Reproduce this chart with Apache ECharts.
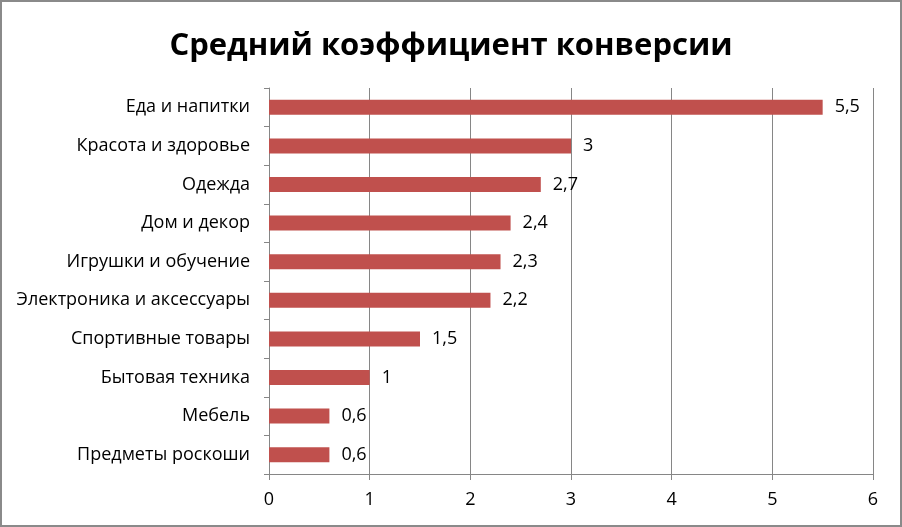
<!DOCTYPE html>
<html>
<head>
<meta charset="utf-8">
<script src="https://cdn.jsdelivr.net/npm/echarts@6/dist/echarts.min.js"></script>
<style>
  html, body { margin: 0; padding: 0; background: #fff; }
  #frame { width: 902px; height: 527px; box-sizing: border-box; border: 2px solid #8a8a8a; }
  #ec { width: 898px; height: 523px; }
</style>
</head>
<body>
<div id="frame"><div id="ec"></div></div>
<script>
var categories = [
  "Еда и напитки",
  "Красота и здоровье",
  "Одежда",
  "Дом и декор",
  "Игрушки и обучение",
  "Электроника и аксессуары",
  "Спортивные товары",
  "Бытовая техника",
  "Мебель",
  "Предметы роскоши"
];
var rates = [5.5, 3, 2.7, 2.4, 2.3, 2.2, 1.5, 1, 0.6, 0.6];
var xTicks = [0, 1, 2, 3, 4, 5, 6];

var myChart = echarts.init(document.getElementById("ec"));
var font = "'Open Sans', 'Noto Sans', sans-serif";

myChart.setOption({
  animation: false,
  backgroundColor: "#fff",
  title: {
    text: "Средний коэффициент конверсии",
    left: "center",
    top: 24,
    textStyle: { fontFamily: font, fontSize: 31, fontWeight: "bold", color: "#000" }
  },
  grid: { left: 267, right: 27, top: 86, bottom: 51 },
  xAxis: {
    type: "value",
    min: xTicks[0],
    max: xTicks[xTicks.length - 1],
    interval: 1,
    axisLine: { show: true, lineStyle: { color: "#868686" } },
    axisTick: { show: true, length: 6, lineStyle: { color: "#868686" } },
    splitLine: { show: true, lineStyle: { color: "#868686" } },
    axisLabel: { fontFamily: font, fontSize: 18, color: "#000", margin: 17 }
  },
  yAxis: {
    type: "category",
    inverse: true,
    data: categories,
    axisLine: { show: true, lineStyle: { color: "#868686" } },
    axisTick: { show: true, length: 5, lineStyle: { color: "#868686" } },
    axisLabel: { fontFamily: font, fontSize: 18, color: "#000", margin: 19 }
  },
  series: [
    {
      type: "bar",
      data: rates,
      barWidth: 15,
      itemStyle: { color: "#C0504D" },
      label: {
        show: true,
        position: "right",
        distance: 12,
        fontFamily: font,
        fontSize: 18,
        color: "#000",
        formatter: function (p) { return String(p.value).replace(".", ","); }
      }
    }
  ]
});
</script>
</body>
</html>
